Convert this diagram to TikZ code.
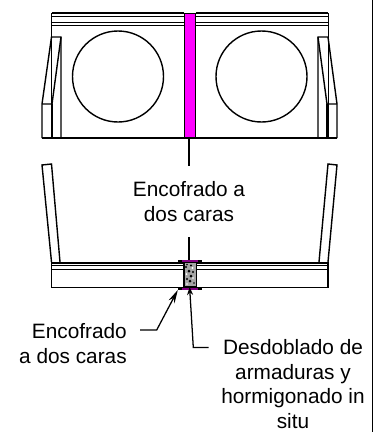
\documentclass[tikz,border=0pt]{standalone}
\usepackage{fontspec}
\setmainfont{Liberation Sans}
\usetikzlibrary{arrows.meta}
\definecolor{mag}{RGB}{255,0,255}
\definecolor{purp}{RGB}{130,0,130}
\tikzset{
 x=0.75pt,y=-0.75pt,
 ln/.style={line width=1.05pt,black},
 thinln/.style={line width=0.75pt,black},
 thick2/.style={line width=1.5pt,black},
 lead/.style={line width=0.95pt,black},
 arrowa/.style={lead,-{Stealth[length=10pt,width=5pt]}},
 arrowb/.style={lead,-{Stealth[length=6pt,width=4.5pt]}},
 lbl/.style={font=\fontsize{15.6pt}{18.9pt}\selectfont,align=center,inner sep=0pt,text=black},
 lblb/.style={font=\fontsize{15.6pt}{18.6pt}\selectfont,align=center,inner sep=0pt,text=black},
}
\begin{document}
\begin{tikzpicture}
\useasboundingbox (0,0) rectangle (378,432);
\fill[white] (0,0) rectangle (378,432);
% frame line
\draw[line width=1.3pt] (372.5,0) -- (372.5,432);
% upper section
\draw[thinln] (51.5,13) -- (51.5,138) (328,13) -- (328,138);
\draw[thick2] (51.5,13) -- (328,13);
\draw[thinln] (51.5,16) -- (328,16) (51.5,22) -- (328,22) (51.5,25.5) -- (328,25.5);
\draw[ln] (42,138) -- (337,138);
\fill[white] (184,12) rectangle (195.5,138);
\draw[line width=1pt,fill=mag] (184.7,13.5) rectangle (195.3,138);
\draw[ln] (118,76.5) circle (45.5) (261.5,76.5) circle (45.5);
% left side
\draw[ln] (61,138) -- (61,37) -- (51.5,37) -- (42,104) -- (42,138);
\draw[ln] (61,37) -- (52,104) -- (42,104);
\draw[ln] (52,104) -- (52,138);
% right side
\draw[ln] (318,138) -- (318,37) -- (328,37) -- (337,104) -- (337,138);
\draw[ln] (318,37) -- (327,104) -- (337,104);
\draw[ln] (327,104) -- (327,138);
\coordinate (jointb) at (189,138);
\coordinate (jointe) at (189,166);
\draw[lead] (jointb) -- (jointe);
\node[lbl] (t1) at (189,201.5) {Encofrado a\\dos caras};
% lower section walls
\draw[ln] (51.5,262) -- (42,165) -- (51.5,164) -- (60,262);
\draw[ln] (328,262) -- (337,165) -- (328,164) -- (319,262);
% slab
\draw[thick2] (51.5,262.5) -- (328,262.5);
\draw[thinln] (51.5,265) -- (328,265);
\draw[line width=1.1pt] (51.5,269.5) -- (328,269.5);
\draw[ln] (51.5,262) -- (51.5,287.3) -- (328,287.3) -- (328,262);
% joint block
\draw[line width=0.9pt,fill=black!35] (184,262) rectangle (196.5,287);
\fill[black] (186,267) circle (1.2) (191,265.5) circle (1.1) (189,271) circle (1.5) (193,272) circle (1.2) (187,279) circle (1.2) (191,276) circle (1.5) (190,281) circle (1.5) (194,283) circle (0.9) (187,264.5) circle (0.8);
\fill[white] (192.5,268) circle (1.1) (186.5,274) circle (1) (193,278) circle (0.9) (187,284) circle (0.8);
% flanges
\draw[line width=1.4pt,black] (178,261) -- (202,261);
\draw[line width=1.4pt,purp] (182,261) -- (198,261);
\draw[line width=1.4pt] (178,288.7) -- (202,288.7);
\draw[line width=1.4pt,purp] (182,288.7) -- (198,288.7);
\coordinate (topb) at (189,260);
\coordinate (tope) at (189,237);
\draw[lead] (topb) -- (tope);
% arrows
\node[lbl,align=right,anchor=east] (t2) at (127,343.5) {Encofrado\\a dos caras};
\node[lblb] (t3) at (293,384) {Desdoblado de\\armaduras y\\hormigonado in\\situ};
\coordinate (a1) at (140,330);
\coordinate (a2) at (156.7,330);
\coordinate (a3) at (177.8,290);
\draw[arrowa] (a1) -- (a2) -- (a3);
\coordinate (b1) at (208.5,347.5);
\coordinate (b2) at (193.3,347.5);
\coordinate (b3) at (189.6,287);
\draw[arrowb] (b1) -- (b2) -- (b3);
\end{tikzpicture}
\end{document}
